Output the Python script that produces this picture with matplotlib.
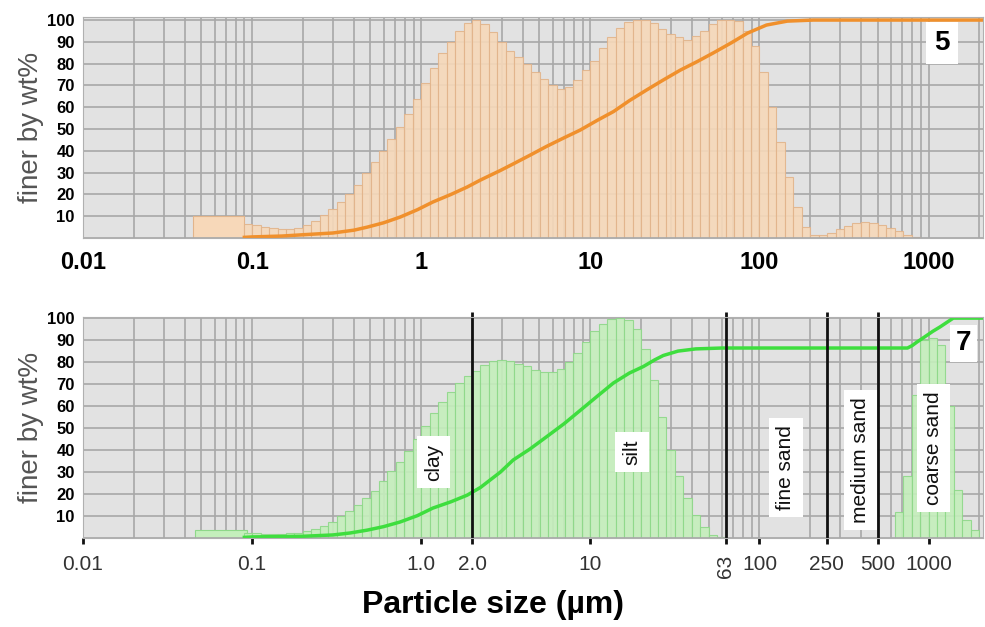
import numpy as np
import matplotlib.pyplot as plt
from matplotlib.ticker import LogLocator, NullFormatter

plt.rcParams['font.family'] = ['Liberation Sans', 'DejaVu Sans']

# histogram bins: 1/20 decade wide, first bin edge at 10**-1.05 um
bin_start = -1.05
bin_step = 0.05

# sample 5 (top) - frequency, scaled to max 100
s5_lead = [0.045, 0.09, 10]      # wide first bar: from, to, height
s5_freq = [6.5, 6, 5, 4.5, 4, 4, 4.5, 6, 8, 10.5,
           13.5, 16.5, 20, 24.5, 30, 35, 40, 45.5, 51, 57,
           64, 71, 78, 85, 90, 95, 98.5, 100, 98, 94.5,
           90, 86, 83, 80, 76, 73, 70, 68.5, 69.5, 72.5,
           77, 81, 87, 92, 96.5, 99, 100, 100, 98.5, 96,
           93.5, 92, 91, 92.5, 95, 98, 100, 100, 99.5, 95,
           88, 76, 60, 44, 28, 14, 5, 1.5, 1.5, 2.5,
           4, 5.5, 7, 7.3, 7, 6, 4.5, 3, 1.5, 0.5]
s5_cum_size = [0.09, 0.1, 0.15, 0.2, 0.3, 0.4, 0.48, 0.6, 0.75, 0.95, 1.17, 1.5, 1.87,
               2.24, 2.94, 3.5, 4.4, 5.5, 7, 8.7, 11, 13.7, 17, 21.6, 27, 34, 43,
               53.6, 68, 85, 110, 146, 209, 2100]
s5_cum_pct = [0.3, 0.5, 0.9, 1.5, 2.3, 3.6, 5, 7, 9.6, 13, 16.5, 20, 23.4,
              26.6, 31, 34, 38, 42, 46, 49.5, 54, 58, 63, 68, 72.5, 77, 81,
              85, 89.5, 94, 97.7, 99.5, 100, 100]

# sample 7 (bottom)
s7_lead = [0.046, 0.093, 3.6]
s7_freq = [2.3, 2.2, 2, 2, 2, 2.2, 2.5, 3, 4, 5.5,
           7.5, 10, 12.5, 15, 18, 21.5, 26, 30.5, 34.5, 39.5,
           45, 51, 57, 62, 66.5, 70.5, 73.5, 76, 78.5, 80.5,
           81, 80.5, 79, 78, 76.5, 75.5, 75.5, 77, 80, 84,
           89, 94, 97.5, 99.5, 100, 99, 95, 86, 72, 55,
           40, 28, 18, 10.5, 5, 1.5, 0.3,
           0, 0, 0, 0, 0, 0, 0, 0, 0, 0,
           0, 0, 0, 0, 0, 0, 0, 0, 0, 0,
           12, 28, 65, 90, 91, 88, 60, 22, 8, 3.5]
s7_cum_size = [0.09, 0.1, 0.2, 0.3, 0.38, 0.48, 0.6, 0.75, 0.95, 1.17, 1.5, 1.87,
               2.24, 2.94, 3.5, 4.4, 5.5, 7, 8.7, 11, 13.7, 17, 20.6, 24, 27,
               33, 42, 60, 751, 800, 850, 950, 1060, 1170, 1400, 2100]
s7_cum_pct = [0.3, 0.5, 0.8, 1.4, 2.3, 3.6, 5.2, 7.3, 10.2, 13.6, 16.5, 19.5,
              23, 30, 35.5, 40.5, 46, 52, 58, 64.5, 70.5, 75, 78, 81, 83,
              85, 86, 86.4, 86.4, 87.5, 89, 91.5, 94, 96, 100, 100]

# grain class boundaries (um) and labels
bounds = [2, 63, 250, 500]
classes = ['clay', 'silt', 'fine sand', 'medium sand', 'coarse sand']
class_x = [1.18, 17.7, 143, 396, 1070]
class_y = [34.5, 39, 32, 35.5, 41]

top_ticks = [0.01, 0.1, 1, 10, 100, 1000]
top_labels = ['0.01', '0.1', '1', '10', '100', '1000']
bot_ticks = [0.01, 0.1, 1, 2, 10, 63, 100, 250, 500, 1000]
bot_labels = ['0.01', '0.1', '1.0', '2.0', '10', '63', '100', '250', '500', '1000']
y_ticks = [10, 20, 30, 40, 50, 60, 70, 80, 90, 100]


def setup(ax):
    ax.set_xscale('log')
    ax.set_xlim(0.01, 2100)
    ax.set_ylim(0, 101.4)
    ax.set_facecolor('#e2e2e2')
    ax.set_axisbelow(True)
    ax.xaxis.set_minor_locator(LogLocator(base=10, subs=np.arange(1, 10), numticks=100))
    ax.xaxis.set_minor_formatter(NullFormatter())
    ax.xaxis.remove_overlapping_locs = False
    ax.grid(True, which='minor', axis='x', color='#a8a8a8', lw=1.2)
    ax.set_yticks(y_ticks)
    ax.set_yticklabels([str(v) for v in y_ticks], fontsize=12, fontweight='bold')
    ax.grid(True, which='major', axis='y', color='#a8a8a8', lw=1.2)
    ax.axhline(0, color='#a8a8a8', lw=1.2)
    ax.tick_params(axis='y', length=0, pad=6)
    ax.tick_params(axis='x', which='minor', length=0)
    for s in ax.spines.values():
        s.set_color('#b0b0b0')
    ax.set_ylabel('finer by wt%', fontsize=20, color='#555555', labelpad=2)


def hist(ax, lead, freq, fc, ec):
    edges = 10 ** (bin_start + bin_step * np.arange(len(freq) + 1))
    ax.bar(lead[0], lead[2], width=lead[1] - lead[0], align='edge',
           color=fc, edgecolor=ec, lw=0.8)
    ax.bar(edges[:-1], freq, width=np.diff(edges), align='edge',
           color=fc, edgecolor=ec, lw=0.8, alpha=0.9)


fig = plt.figure(figsize=(9.85, 6.27), dpi=100)
ax1 = fig.add_axes([0.0843, 0.6204, 0.9137, 0.3525])
ax2 = fig.add_axes([0.0843, 0.1419, 0.9137, 0.3525])

# top panel
setup(ax1)
hist(ax1, s5_lead, s5_freq, '#f7d8b9', '#e2b48b')
ax1.plot(s5_cum_size, s5_cum_pct, color='#f0902c', lw=2.5)
ax1.set_xticks(top_ticks)
ax1.set_xticklabels(top_labels, fontsize=17, fontweight='bold')
ax1.tick_params(axis='x', which='major', length=0, pad=9)
ax1.text(0.954, 0.882, '5', transform=ax1.transAxes, fontsize=20, fontweight='bold',
         ha='center', va='center',
         bbox=dict(facecolor='white', edgecolor='none', boxstyle='square,pad=0.3'))

# bottom panel
setup(ax2)
ax2.set_ylim(0, 100.5)
hist(ax2, s7_lead, s7_freq, '#c4efbc', '#8ed889')
ax2.plot(s7_cum_size, s7_cum_pct, color='#3ede3e', lw=2.5)
ax2.vlines(bounds, 0, 103, color='#111111', lw=2, clip_on=False)
ax2.set_xticks(bot_ticks)
ax2.set_xticklabels(bot_labels, fontsize=15, color='#333333')
for lab in ax2.get_xticklabels():
    if lab.get_text() == '63':
        lab.set_rotation(90)
ax2.tick_params(axis='x', which='major', length=4, width=2, color='#111111', pad=8)
for name, x, y in zip(classes, class_x, class_y):
    ax2.text(x, y, name, rotation=90, fontsize=15, ha='center', va='center', color='#111111',
             bbox=dict(facecolor='white', edgecolor='none', boxstyle='square,pad=0.35'))
ax2.text(0.978, 0.882, '7', transform=ax2.transAxes, fontsize=20, fontweight='bold',
         ha='center', va='center',
         bbox=dict(facecolor='white', edgecolor='none', boxstyle='square,pad=0.2'))

fig.text(0.5, 0.035, 'Particle size (\u00b5m)', fontsize=23, fontweight='bold',
         ha='center', va='center')

fig.savefig('out.png', dpi=100)
